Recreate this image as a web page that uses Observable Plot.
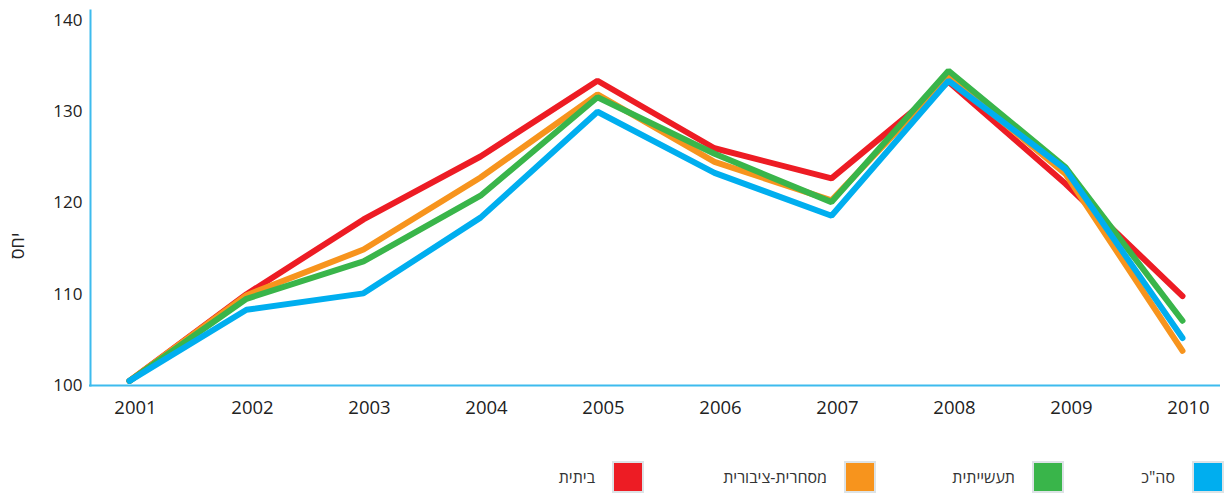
<!DOCTYPE html>
<html>
<head>
<meta charset="utf-8">
<script src="https://cdn.jsdelivr.net/npm/d3@7"></script>
<script src="https://cdn.jsdelivr.net/npm/@observablehq/plot@0.6"></script>
<style>
  body { margin: 0; background: #fff; font-family: "Open Sans", sans-serif; }
  #chart { width: 1224px; height: 440px; }
  .legend { position: relative; width: 1224px; height: 56px; }
  .item { position: absolute; top: 21px; height: 32px; display: flex; align-items: center; direction: rtl; }
  .sw { width: 28px; height: 28px; border: 2px solid #dde3e6; box-sizing: content-box; }
  .lbl { font-size: 16px; color: #333; margin-right: 17px; }
</style>
</head>
<body>
<div id="chart"></div>
<div class="legend" id="legend"></div>
<script>
const years = [2001, 2002, 2003, 2004, 2005, 2006, 2007, 2008, 2009, 2010];
const seriesNames = ["ביתית", "מסחרית-ציבורית", "תעשייתית", "סה\"כ"];
const seriesColors = ["#ed1c24", "#f7941d", "#39b54a", "#00aeef"];
const residential = [100.5, 110.0, 118.2, 125.1, 133.4, 126.0, 122.7, 133.3, 122.1, 109.8];
const commercial  = [100.5, 109.9, 114.9, 122.8, 131.9, 124.5, 120.3, 133.8, 123.2, 103.8];
const industrial  = [100.5, 109.5, 113.6, 120.8, 131.6, 125.4, 120.1, 134.5, 123.9, 107.1];
const total       = [100.5, 108.3, 110.1, 118.4, 130.0, 123.3, 118.6, 133.4, 123.7, 105.2];
const yTicks = [100, 110, 120, 130, 140];
const yLabel = "יחס";

const seriesValues = [residential, commercial, industrial, total];
const data = seriesValues.flatMap((vals, i) =>
  vals.map((v, j) => ({year: years[j], value: v, series: seriesNames[i]})));

const axisColor = "#3dbbee";

const plot = Plot.plot({
  width: 1224,
  height: 440,
  marginLeft: 90,
  marginRight: 4,
  marginTop: 10,
  marginBottom: 55,
  style: {fontFamily: "Open Sans, sans-serif", fontSize: "17px", color: "#222", background: "#fff"},
  x: {type: "point", domain: years, padding: 0.3, label: null},
  y: {domain: [100, 141.1], ticks: yTicks, label: null, tickSize: 0, tickPadding: 8},
  color: {domain: seriesNames, range: seriesColors},
  marks: [
    Plot.axisX({tickSize: 0, tickPadding: 15, dx: 6, fontSize: 18.5, tickFormat: d => String(d), label: null}),
    Plot.lineY(data, {x: "year", y: "value", z: "series", stroke: "series", strokeWidth: 6, strokeLinecap: "round", strokeLinejoin: "miter"}),
    Plot.frame({anchor: "left", stroke: axisColor, strokeWidth: 2}),
    Plot.ruleY([100], {stroke: axisColor, strokeWidth: 2, insetLeft: -1})
  ]
});
document.getElementById("chart").appendChild(plot);

const svg = d3.select(plot);
svg.append("text")
  .attr("transform", "translate(24,246) rotate(-90)")
  .attr("text-anchor", "middle")
  .attr("direction", "rtl")
  .attr("fill", "#222")
  .style("font-size", "18px")
  .text(yLabel);

// legend
const legendRight = [0, 160, 348, 580];
const order = [3, 2, 1, 0];
const legend = document.getElementById("legend");
order.forEach((si, k) => {
  const item = document.createElement("div");
  item.className = "item";
  item.style.right = legendRight[k] + "px";
  const sw = document.createElement("div");
  sw.className = "sw";
  sw.style.background = seriesColors[si];
  const lbl = document.createElement("span");
  lbl.className = "lbl";
  lbl.textContent = seriesNames[si];
  item.appendChild(sw);
  item.appendChild(lbl);
  legend.appendChild(item);
});
</script>
</body>
</html>
